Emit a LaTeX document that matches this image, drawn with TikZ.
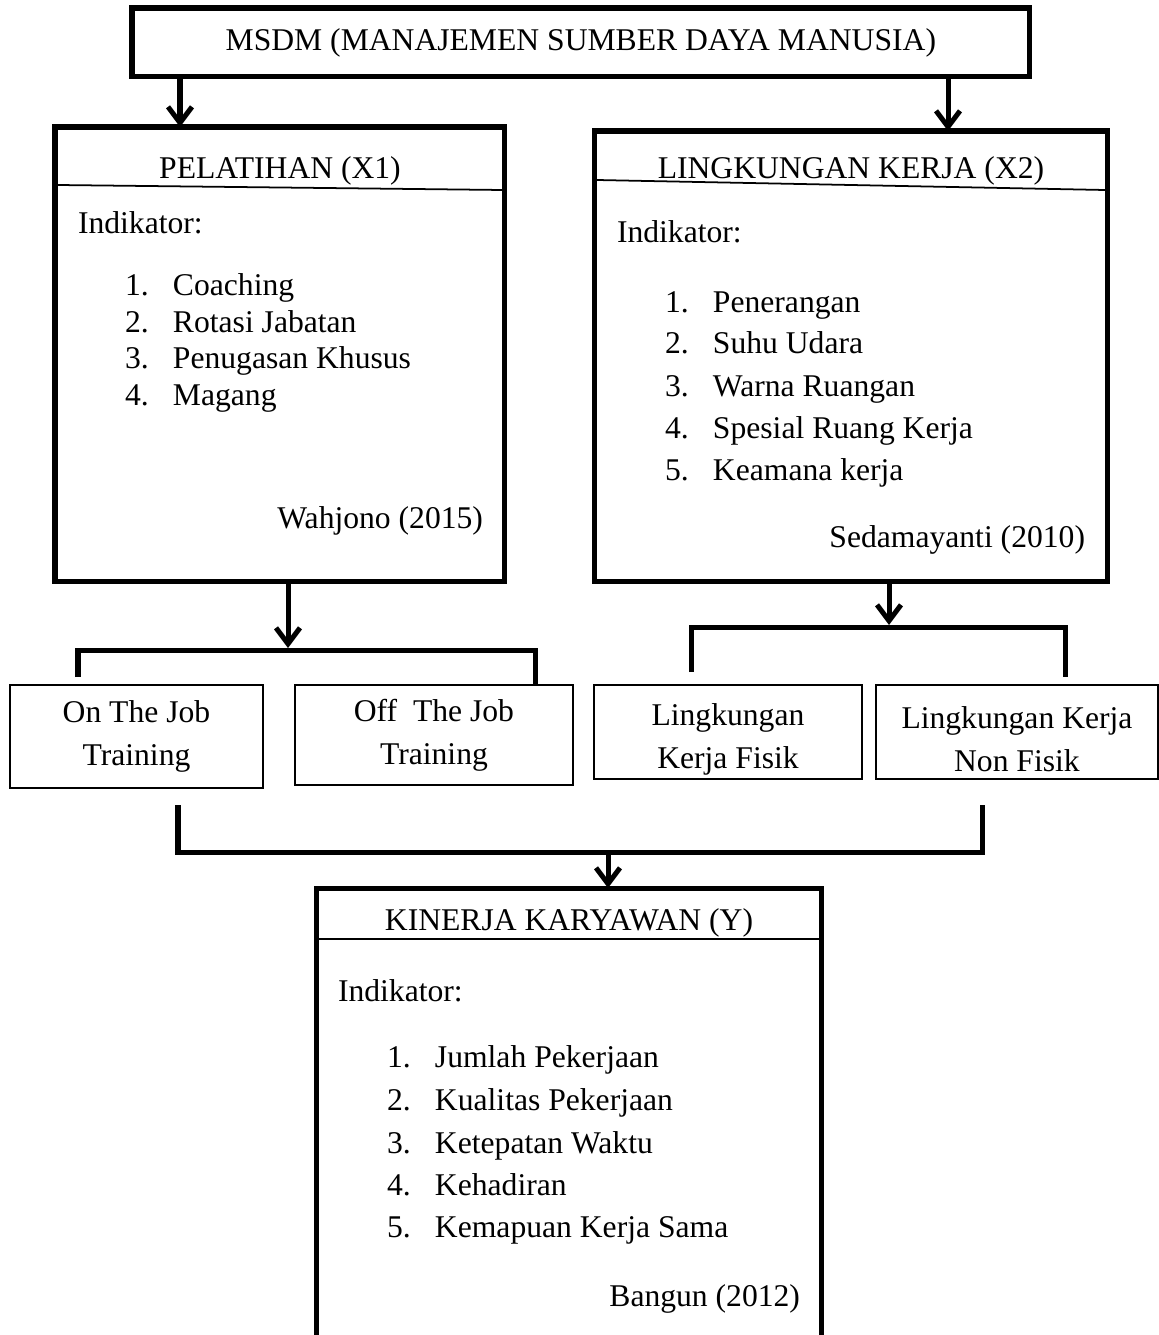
\documentclass[tikz,border=0pt]{standalone}
\usepackage{fontspec}
\setmainfont{Liberation Serif}
\usetikzlibrary{arrows.meta}
\begin{document}
\begin{tikzpicture}[
    x=0.02cm, y=-0.02cm,
    >={Straight Barb[length=0.32cm,width=0.48cm]},
    every node/.style={font=\fontsize{18pt}{24.5pt}\selectfont, inner sep=0pt, outer sep=0pt},
    bigbox/.style={draw, line width=2.85pt, anchor=north west},
    smallbox/.style={draw, line width=1pt, anchor=north west, align=center},
    item/.style={anchor=base west},
    source/.style={anchor=base east},
    thickline/.style={line width=2.85pt},
    arr/.style={->, line width=2.85pt}
]
\useasboundingbox (0,0) rectangle (1159,1335);

\node[bigbox, minimum width=17.96cm, minimum height=1.38cm] (msdm) at (132,8) {MSDM (MANAJEMEN SUMBER DAYA MANUSIA)};

\node[bigbox, minimum width=9cm, minimum height=9.1cm] (x1) at (55,127) {};
\node[bigbox, minimum width=10.28cm, minimum height=9.02cm] (x2) at (594,131) {};
\node[bigbox, minimum width=10.12cm, minimum height=9.14cm] (y) at (316,888) {};

\node[smallbox, minimum width=5.06cm, minimum height=2.06cm] (onjob) at (10,685) {On The Job\\Training};
\node[smallbox, minimum width=5.56cm, minimum height=2cm] (offjob) at (295,685) {Off\ \ The Job\\Training};
\node[smallbox, minimum width=5.36cm, minimum height=1.88cm, text height=45pt] (fisik) at (594,685) {Lingkungan\\Kerja Fisik};
\node[smallbox, minimum width=5.64cm, minimum height=1.88cm, text height=45pt] (nonfisik) at (876,685) {Lingkungan Kerja\\Non Fisik};

\node[anchor=base] (x1title) at (280,178) {PELATIHAN (X1)};
\draw[line width=1pt] (58,185) -- (503,190);
\node[item] (x1ind) at (78,233) {Indikator:};
\node[item] (x1a) at (125,295) {\makebox[0.96cm][l]{1.}Coaching};
\node[item] (x1b) at (125,332) {\makebox[0.96cm][l]{2.}Rotasi Jabatan};
\node[item] (x1c) at (125,368) {\makebox[0.96cm][l]{3.}Penugasan Khusus};
\node[item] (x1d) at (125,405) {\makebox[0.96cm][l]{4.}Magang};
\node[source] (x1src) at (483,528) {Wahjono (2015)};

\node[anchor=base] (x2title) at (851,178) {LINGKUNGAN KERJA (X2)};
\draw[line width=1pt] (597,180) -- (1105,190);
\node[item] (x2ind) at (617,242) {Indikator:};
\node[item] (x2a) at (665,312) {\makebox[0.96cm][l]{1.}Penerangan};
\node[item] (x2b) at (665,353) {\makebox[0.96cm][l]{2.}Suhu Udara};
\node[item] (x2c) at (665,396) {\makebox[0.96cm][l]{3.}Warna Ruangan};
\node[item] (x2d) at (665,438) {\makebox[0.96cm][l]{4.}Spesial Ruang Kerja};
\node[item] (x2e) at (665,480) {\makebox[0.96cm][l]{5.}Keamana kerja};
\node[source] (x2src) at (1085,547) {Sedamayanti (2010)};

\node[anchor=base] (ytitle) at (569,930) {KINERJA KARYAWAN (Y)};
\draw[line width=1pt] (318,939) -- (820,939);
\node[item] (yind) at (338,1001) {Indikator:};
\node[item] (ya) at (387,1067) {\makebox[0.96cm][l]{1.}Jumlah Pekerjaan};
\node[item] (yb) at (387,1110) {\makebox[0.96cm][l]{2.}Kualitas Pekerjaan};
\node[item] (yc) at (387,1153) {\makebox[0.96cm][l]{3.}Ketepatan Waktu};
\node[item] (yd) at (387,1195) {\makebox[0.96cm][l]{4.}Kehadiran};
\node[item] (ye) at (387,1237) {\makebox[0.96cm][l]{5.}Kemapuan Kerja Sama};
\node[source] (ysrc) at (800,1306) {Bangun (2012)};

\coordinate (a1) at (180,0);
\coordinate (a2) at (948,0);
\draw[arr] (msdm.south -| a1) -- (x1.north -| a1);
\draw[arr] (msdm.south -| a2) -- (x2.north -| a2);

\coordinate (a3) at (288,648);
\coordinate (b1l) at (78,677);
\coordinate (b1r) at (535,650);
\draw[arr] (x1.south -| a3) -- (a3);
\draw[thickline] (b1l) |- (b1r) -- (b1r |- offjob.north);

\coordinate (a4) at (889,625);
\coordinate (b2l) at (691,672);
\coordinate (b2r) at (1065,627);
\coordinate (b2e) at (1065,677);
\draw[arr] (x2.south -| a4) -- (a4);
\draw[thickline] (b2l) |- (b2r) -- (b2e);

\coordinate (b3l) at (178,805);
\coordinate (b3r) at (982,805);
\coordinate (a5) at (608,852);
\draw[thickline] (b3l) |- (a5) -| (b3r);
\draw[arr] (a5) -- (a5 |- y.north);
\end{tikzpicture}
\end{document}
